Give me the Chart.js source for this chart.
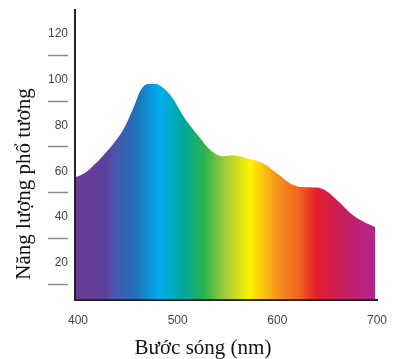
<!DOCTYPE html>
<html>
<head>
<meta charset="utf-8">
<script src="https://cdn.jsdelivr.net/npm/chart.js@4"></script>
<style>
  html, body { margin: 0; padding: 0; background: #fff; }
  #wrap { width: 393px; height: 359px; }
</style>
</head>
<body>
<div id="wrap"><canvas id="spectrum"></canvas></div>
<script>
// spectral power
const wavelengths = [398, 406, 416, 433, 446, 456, 463, 470, 478, 486, 495, 506, 520, 533, 545, 555, 570, 586, 600, 613, 623, 640, 648, 660, 676, 690, 698];
const energy = [57.5, 59, 62.7, 70.7, 78.7, 88.2, 95.5, 98.1, 98.1, 96.2, 91.9, 83.8, 75.8, 69.2, 66.6, 67, 65.6, 63.4, 59, 54.7, 53.2, 52.9, 51.7, 47.4, 40.8, 37.2, 35.7];
const yTicks = [20, 40, 60, 80, 100, 120];
const xTicks = [400, 500, 600, 700];
const xTitle = "Bước sóng (nm)";
const yTitle = "Năng lượng phổ tương";

const rainbow = [
  [0.01, "#6d3a96"], [0.10, "#5c3f9e"], [0.13, "#4a55a8"], [0.21, "#1b75bc"],
  [0.28, "#00aeef"], [0.36, "#00a79d"], [0.43, "#2db34a"], [0.50, "#a5cd39"],
  [0.58, "#fff100"], [0.67, "#f7941d"], [0.74, "#f26522"], [0.80, "#e31e2d"],
  [0.89, "#c41f5f"], [0.99, "#b3238e"]
];

function spectrumFill(context) {
  const area = context.chart.chartArea;
  if (!area) return null;
  const g = context.chart.ctx.createLinearGradient(area.left, 0, area.right, 0);
  rainbow.forEach(([stop, color]) => g.addColorStop(stop, color));
  return g;
}

// dashes under the y labels and the two serif axis titles
const extras = {
  id: "extras",
  afterDraw(chart) {
    const ctx = chart.ctx;
    const y = chart.scales.y;
    ctx.save();
    ctx.strokeStyle = "#8a8a8a";
    ctx.lineWidth = 1.5;
    yTicks.forEach((t) => {
      const py = Math.round(y.getPixelForValue(t) + 21) + 0.5;
      ctx.beginPath();
      ctx.moveTo(y.right - 27, py);
      ctx.lineTo(y.right - 7, py);
      ctx.stroke();
    });

    ctx.fillStyle = "#111";
    ctx.font = "21px 'Liberation Serif', 'Times New Roman', serif";
    ctx.textBaseline = "alphabetic";
    ctx.textAlign = "center";
    ctx.fillText(xTitle, 203, 354);

    ctx.translate(30, 184);
    ctx.rotate(-Math.PI / 2);
    ctx.fillText(yTitle, 0, 0);
    ctx.restore();
  }
};

new Chart(document.getElementById("spectrum"), {
  type: "line",
  data: {
    datasets: [{
      data: wavelengths.map((w, i) => ({ x: w, y: energy[i] })),
      fill: "origin",
      backgroundColor: spectrumFill,
      borderWidth: 0,
      pointRadius: 0,
      cubicInterpolationMode: "monotone"
    }]
  },
  options: {
    responsive: true,
    maintainAspectRatio: false,
    animation: false,
    layout: { padding: { left: 41, right: 16, top: 10, bottom: 17 } },
    plugins: { legend: { display: false }, tooltip: { enabled: false } },
    scales: {
      x: {
        type: "linear",
        min: 397,
        max: 700,
        z: 1,
        afterBuildTicks: (s) => { s.ticks = xTicks.map((v) => ({ value: v })); },
        afterFit: (s) => { s.paddingLeft = 0; s.paddingRight = 0; },
        grid: { drawOnChartArea: false, drawTicks: false },
        border: { color: "#222", width: 2 },
        ticks: { padding: 14, color: "#444", font: { family: "'Liberation Sans', Arial", size: 12 } }
      },
      y: {
        min: 4,
        max: 130.4,
        z: 1,
        afterBuildTicks: (s) => { s.ticks = yTicks.map((v) => ({ value: v })); },
        afterFit: (s) => { s.paddingTop = 0; s.paddingBottom = 0; },
        grid: { drawOnChartArea: false, drawTicks: false },
        border: { color: "#222", width: 2 },
        ticks: { padding: 7, color: "#444", font: { family: "'Liberation Sans', Arial", size: 12 } }
      }
    }
  },
  plugins: [extras]
});
</script>
</body>
</html>
